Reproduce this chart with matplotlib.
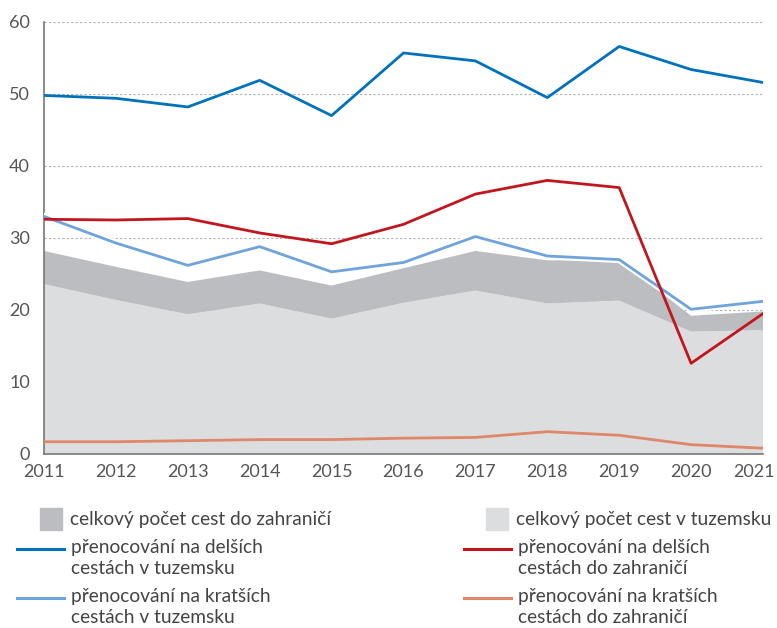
import numpy as np
import matplotlib
matplotlib.use("Agg")
import matplotlib.pyplot as plt
import matplotlib.patheffects as pe
import matplotlib.transforms as mtrans
from matplotlib.patches import Rectangle
from matplotlib.lines import Line2D

plt.rcParams['font.family'] = ['Lato', 'DejaVu Sans']

# data
roky = [2011, 2012, 2013, 2014, 2015, 2016, 2017, 2018, 2019, 2020, 2021]
cesty_tuzemsko = [23.6, 21.4, 19.4, 20.9, 18.8, 21.0, 22.7, 20.9, 21.3, 17.0, 17.2]
cesty_zahranici = [4.6, 4.6, 4.5, 4.6, 4.6, 4.8, 5.5, 6.0, 5.6, 2.2, 2.6]
delsi_tuzemsko = [49.8, 49.4, 48.2, 51.9, 47.0, 55.7, 54.6, 49.5, 56.6, 53.4, 51.6]
delsi_zahranici = [32.6, 32.5, 32.7, 30.7, 29.2, 31.9, 36.1, 38.0, 37.0, 12.6, 19.5]
kratsi_tuzemsko = [33.0, 29.3, 26.2, 28.8, 25.3, 26.6, 30.2, 27.5, 27.0, 20.1, 21.2]
kratsi_zahranici = [1.7, 1.7, 1.85, 2.0, 2.0, 2.2, 2.3, 3.1, 2.6, 1.3, 0.8]

c_tmave = '#bcbdc0'
c_svetle = '#dcdddf'
c_modra = '#0072bc'
c_cervena = '#c1161d'
c_svmodra = '#6fa3dc'
c_losos = '#e0876a'

W, H = 777, 628
fig = plt.figure(figsize=(W / 100, H / 100), dpi=100)
ax = fig.add_axes([44 / W, 1 - 454 / H, 719 / W, 432 / H])

ax.stackplot(roky, cesty_tuzemsko, cesty_zahranici, colors=[c_svetle, c_tmave], zorder=2)
ax.plot(roky, kratsi_zahranici, color=c_losos, lw=2, zorder=3)
ax.plot(roky, delsi_tuzemsko, color=c_modra, lw=2, zorder=3)
ax.plot(roky, kratsi_tuzemsko, color=c_svmodra, lw=2, zorder=3,
        path_effects=[pe.Stroke(linewidth=5, foreground='white'), pe.Normal()])
ax.plot(roky, delsi_zahranici, color=c_cervena, lw=2, zorder=4)

ax.set_xlim(2011, 2021)
ax.set_ylim(0, 60)
ax.set_xticks(roky)
ax.set_yticks(range(0, 61, 10))
ax.grid(axis='y', color='#b0b0b0', ls=(0, (2, 2)), lw=0.8, zorder=1)
ax.tick_params(length=0, labelsize=13, colors='#555555')
ax.tick_params(axis='y', pad=10)
ax.tick_params(axis='x', pad=7)
for s in ['top', 'right']:
    ax.spines[s].set_visible(False)
for s in ['left', 'bottom']:
    ax.spines[s].set_color('#777777')
    ax.spines[s].set_linewidth(1.2)
ax.spines['bottom'].set_zorder(5)

# posledni rok trochu doleva, at se vejde
posun = mtrans.ScaledTranslation(-9 / 100, 0, fig.dpi_scale_trans)
lbl = ax.get_xticklabels()[-1]
lbl.set_transform(lbl.get_transform() + posun)

# legenda
def fx(px):
    return px / W

def fy(py):
    return 1 - py / H

leg_barvy = [c_tmave, c_svetle]
leg_plochy = ['celkový počet cest do zahraničí', 'celkový počet cest v tuzemsku']
for i, x0 in enumerate([40, 486]):
    fig.add_artist(Rectangle((fx(x0), fy(530)), fx(22), 22 / H, color=leg_barvy[i],
                             transform=fig.transFigure))
    fig.text(fx(x0 + 30), fy(519), leg_plochy[i], fontsize=13.8, color='#444444', va='center')

leg_car = [c_modra, c_cervena, c_svmodra, c_losos]
leg_texty = ['přenocování na delších\ncestách v tuzemsku',
             'přenocování na delších\ncestách do zahraničí',
             'přenocování na kratších\ncestách v tuzemsku',
             'přenocování na kratších\ncestách do zahraničí']
for i in range(4):
    x0 = [17, 464][i % 2]
    y0 = [549, 598][i // 2]
    fig.add_artist(Line2D([fx(x0), fx(x0 + 47)], [fy(y0), fy(y0)], color=leg_car[i], lw=2.2,
                          transform=fig.transFigure))
    fig.text(fx(x0 + 54), fy(y0 - 10), leg_texty[i], fontsize=13.8, color='#444444',
             va='top', linespacing=1.3)

fig.savefig('out.png', dpi=100)
